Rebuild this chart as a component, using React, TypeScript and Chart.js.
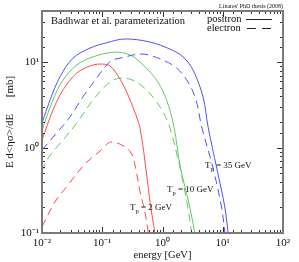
import React, { useEffect, useRef } from 'react';
import { Chart, registerables } from 'chart.js';

Chart.register(...registerables);

// ---- data (energy in GeV, E d<ησ>/dE in mb) ----
const posTp35X = [0.01, 0.0136, 0.0199, 0.0327, 0.0627, 0.119, 0.239, 0.62, 1.33, 2.19, 3.21, 4.7, 5.7, 7.94, 10.9, 12.3];
const posTp35Y = [1.93, 3.62, 6.78, 11.2, 14.7, 17.0, 18.8, 17.3, 14.3, 11.6, 8.13, 3.95, 1.76, 0.578, 0.196, 0.098];

const eleTp35X = [0.01, 0.0175, 0.0292, 0.0479, 0.0809, 0.1345, 0.197, 0.475, 1.02, 1.72, 2.65, 3.6, 4.47, 6.89, 9.61, 10.9];
const eleTp35Y = [0.939, 1.485, 2.3, 3.95, 6.55, 10.2, 11.2, 12.5, 10.6, 8.58, 5.88, 3.62, 1.75, 0.578, 0.196, 0.098];

const posTp10X = [0.01, 0.0152, 0.0223, 0.0377, 0.0702, 0.163, 0.289, 0.423, 0.62, 0.842, 1.17, 1.55, 1.95, 2.86, 3.46];
const posTp10Y = [1.61, 3.62, 6.2, 9.3, 11.6, 13.2, 12.2, 10.1, 7.7, 5.88, 3.62, 1.75, 0.626, 0.196, 0.098];

const eleTp10X = [0.01, 0.0126, 0.0223, 0.0377, 0.0702, 0.1345, 0.213, 0.373, 0.695, 1.02, 1.33, 1.95, 2.65, 3.05];
const eleTp10Y = [0.533, 0.756, 1.23, 1.94, 3.62, 5.88, 6.55, 5.88, 3.92, 2.62, 1.7, 0.578, 0.196, 0.098];

const posTp2X = [0.01, 0.0152, 0.0223, 0.0377, 0.0627, 0.0918, 0.1345, 0.197, 0.268, 0.337, 0.423, 0.547, 0.62, 0.751];
const posTp2Y = [1.23, 2.76, 4.74, 7.49, 9.05, 9.55, 9.05, 6.37, 4.14, 2.76, 1.7, 0.478, 0.233, 0.098];

const eleTp2X = [0.01, 0.0164, 0.027, 0.0517, 0.0918, 0.14, 0.239, 0.308, 0.363, 0.423, 0.512, 0.581];
const eleTp2Y = [0.118, 0.231, 0.365, 0.643, 0.914, 1.165, 1.02, 0.843, 0.547, 0.305, 0.176, 0.1];

const xMin = 0.01;
const xMax = 100;
const yMin = 0.1;
const yMax = 40;

const supDigits: Record<string, string> = {
  '-': '⁻', '0': '⁰', '1': '¹', '2': '²', '3': '³', '4': '⁴', '5': '⁵', '6': '⁶', '7': '⁷', '8': '⁸', '9': '⁹',
};
const decadeLabel = (v: number): string => {
  const l = Math.log10(v);
  const r = Math.round(l);
  if (Math.abs(l - r) > 1e-6) return '';
  return '10' + String(r).split('').map((c) => supDigits[c]).join('');
};

const FONT = "'Liberation Serif', 'Times New Roman', serif";
const BLUE = 'rgb(80,80,255)';
const GREEN = 'rgb(100,200,100)';
const RED = 'rgb(255,75,75)';
const DASH = [8, 5];

const pts = (xs: number[], ys: number[]) => xs.map((x, i) => ({ x, y: ys[i] }));

const overlayPlugin = {
  id: 'overlay',
  afterDraw(chart: any) {
    const { ctx, chartArea: a, scales } = chart;
    const xs = scales.x;
    const ys = scales.y;
    ctx.save();
    // inward ticks on all four sides
    ctx.strokeStyle = '#333';
    ctx.lineWidth = 1;
    ctx.beginPath();
    xs.ticks.forEach((t: any) => {
      const major = decadeLabel(t.value) !== '';
      const len = major ? 6 : 3;
      const p = Math.round(xs.getPixelForValue(t.value)) + 0.5;
      ctx.moveTo(p, a.bottom);
      ctx.lineTo(p, a.bottom - len);
      ctx.moveTo(p, a.top);
      ctx.lineTo(p, a.top + len);
    });
    ys.ticks.forEach((t: any) => {
      const major = decadeLabel(t.value) !== '';
      const len = major ? 6 : 3;
      const p = Math.round(ys.getPixelForValue(t.value)) + 0.5;
      ctx.moveTo(a.left, p);
      ctx.lineTo(a.left + len, p);
      ctx.moveTo(a.right, p);
      ctx.lineTo(a.right - len, p);
    });
    ctx.stroke();
    // frame
    ctx.strokeStyle = '#7a7a7a';
    ctx.lineWidth = 2;
    ctx.strokeRect(a.left, a.top, a.right - a.left, a.bottom - a.top);

    // texts
    ctx.fillStyle = '#111';
    ctx.textBaseline = 'middle';
    ctx.textAlign = 'left';
    ctx.font = `10.5px ${FONT}`;
    ctx.fillText('Badhwar et al. parameterization', a.left + 9, a.top + 10);
    ctx.fillText('positron', 207, 19.5);
    ctx.fillText('electron', 207, 28.5);
    ctx.strokeStyle = '#222';
    ctx.lineWidth = 1;
    ctx.beginPath();
    ctx.moveTo(246, 19.5);
    ctx.lineTo(272, 19.5);
    ctx.stroke();
    ctx.setLineDash([9, 6]);
    ctx.beginPath();
    ctx.moveTo(247, 28.5);
    ctx.lineTo(272, 28.5);
    ctx.stroke();
    ctx.setLineDash([]);

    ctx.font = `6px ${FONT}`;
    ctx.textAlign = 'right';
    ctx.fillText("Linares' PhD thesis (2008)", a.right, 6);

    const tp = (x: number, y: number, rest: string) => {
      ctx.textAlign = 'left';
      ctx.font = `9px ${FONT}`;
      ctx.fillText('T', x, y);
      const w = ctx.measureText('T').width;
      ctx.font = `6.5px ${FONT}`;
      ctx.fillText('p', x + w, y + 3);
      const w2 = ctx.measureText('p').width;
      ctx.font = `9px ${FONT}`;
      ctx.fillText(' = ' + rest, x + w + w2, y);
    };
    tp(205, 166, '35 GeV');
    tp(167, 190, '10 GeV');
    tp(130, 208, '2 GeV');
    ctx.restore();
  },
};

export default function App() {
  const ref = useRef<HTMLCanvasElement | null>(null);
  useEffect(() => {
    if (!ref.current) return;
    const mk = (label: string, xs: number[], ys: number[], color: string, dashed: boolean) => ({
      label,
      data: pts(xs, ys),
      borderColor: color,
      backgroundColor: color,
      borderWidth: 1,
      borderDash: dashed ? DASH : [],
      pointRadius: 0,
      fill: false,
      tension: 0.35,
    });
    const chart = new Chart(ref.current, {
      type: 'line',
      data: {
        datasets: [
          mk('positron Tp=35 GeV', posTp35X, posTp35Y, BLUE, false),
          mk('electron Tp=35 GeV', eleTp35X, eleTp35Y, BLUE, true),
          mk('positron Tp=10 GeV', posTp10X, posTp10Y, GREEN, false),
          mk('electron Tp=10 GeV', eleTp10X, eleTp10Y, GREEN, true),
          mk('positron Tp=2 GeV', posTp2X, posTp2Y, RED, false),
          mk('electron Tp=2 GeV', eleTp2X, eleTp2Y, RED, true),
        ],
      },
      options: {
        animation: false,
        responsive: false,
        maintainAspectRatio: false,
        layout: { padding: { top: 11, right: 16, left: 0, bottom: 0 } },
        plugins: { legend: { display: false }, tooltip: { enabled: false } },
        scales: {
          x: {
            type: 'logarithmic',
            min: xMin,
            max: xMax,
            grid: { display: false, drawTicks: false },
            border: { display: false },
            ticks: {
              autoSkip: false,
              maxRotation: 0,
              minRotation: 0,
              padding: 4,
              color: '#111',
              font: { family: FONT, size: 11 },
              callback: (v: any) => decadeLabel(Number(v)),
            },
            title: {
              display: true,
              text: 'energy [GeV]',
              color: '#111',
              font: { family: FONT, size: 10.5 },
              padding: { top: 0, bottom: 0 },
            },
            afterFit: (s: any) => {
              s.height = 29;
            },
          },
          y: {
            type: 'logarithmic',
            min: yMin,
            max: yMax,
            grid: { display: false, drawTicks: false },
            border: { display: false },
            ticks: {
              autoSkip: false,
              padding: 3,
              color: '#111',
              font: { family: FONT, size: 11 },
              callback: (v: any) => decadeLabel(Number(v)),
            },
            title: {
              display: true,
              text: 'E d<ησ>/dE      [mb]',
              color: '#111',
              font: { family: FONT, size: 11 },
              padding: { top: 4, bottom: 0 },
            },
            afterFit: (s: any) => {
              s.width = 42;
            },
          },
        },
      },
      plugins: [overlayPlugin],
    });
    return () => chart.destroy();
  }, []);
  return (
    <div style={{ position: 'absolute', left: 0, top: 0, width: 299, height: 262, background: '#fff' }}>
      <canvas ref={ref} width={299} height={262} style={{ width: 299, height: 262, display: 'block' }} />
    </div>
  );
}
